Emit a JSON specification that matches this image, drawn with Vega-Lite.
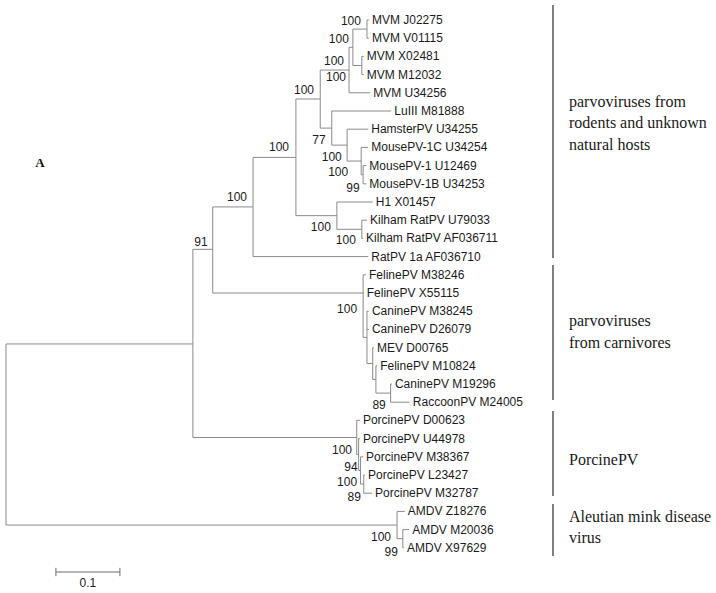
{
  "$schema": "https://vega.github.io/schema/vega-lite/v6.json",
  "width": 716,
  "height": 593,
  "autosize": {"type": "none"},
  "padding": 0,
  "background": "white",
  "config": {"view": {"stroke": null}},
  "datasets": {
    "segs": [
      {"x": 0, "y": 17.8, "x2": 0, "y2": 27.75},
      {"x": 0.292, "y": 12.6, "x2": 0.292, "y2": 22.94},
      {"x": 0.323, "y": 10.27, "x2": 0.323, "y2": 15},
      {"x": 0.386, "y": 7.55, "x2": 0.386, "y2": 13},
      {"x": 0.453, "y": 4.34, "x2": 0.453, "y2": 10.75},
      {"x": 0.491, "y": 2.75, "x2": 0.491, "y2": 5.94},
      {"x": 0.536, "y": 1.5, "x2": 0.536, "y2": 4},
      {"x": 0.542, "y": 0.5, "x2": 0.542, "y2": 2.5},
      {"x": 0.564, "y": 0, "x2": 0.564, "y2": 1},
      {"x": 0.556, "y": 2, "x2": 0.556, "y2": 3},
      {"x": 0.509, "y": 5, "x2": 0.509, "y2": 6.875},
      {"x": 0.533, "y": 6, "x2": 0.533, "y2": 7.75},
      {"x": 0.555, "y": 7, "x2": 0.555, "y2": 8.5},
      {"x": 0.558, "y": 8, "x2": 0.558, "y2": 9},
      {"x": 0.517, "y": 10, "x2": 0.517, "y2": 11.5},
      {"x": 0.556, "y": 11, "x2": 0.556, "y2": 12},
      {"x": 0.558, "y": 14, "x2": 0.558, "y2": 17.44},
      {"x": 0.564, "y": 16, "x2": 0.564, "y2": 18.875},
      {"x": 0.573, "y": 18, "x2": 0.573, "y2": 19.75},
      {"x": 0.578, "y": 19, "x2": 0.578, "y2": 20.5},
      {"x": 0.601, "y": 20, "x2": 0.601, "y2": 21},
      {"x": 0.548, "y": 22, "x2": 0.548, "y2": 23.875},
      {"x": 0.551, "y": 23, "x2": 0.551, "y2": 24.75},
      {"x": 0.554, "y": 24, "x2": 0.554, "y2": 25.5},
      {"x": 0.559, "y": 25, "x2": 0.559, "y2": 26},
      {"x": 0.611, "y": 27, "x2": 0.611, "y2": 28.5},
      {"x": 0.620, "y": 28, "x2": 0.620, "y2": 29},
      {"x": 0, "y": 17.8, "x2": 0.292, "y2": 17.8},
      {"x": 0, "y": 27.75, "x2": 0.611, "y2": 27.75},
      {"x": 0.292, "y": 12.6, "x2": 0.323, "y2": 12.6},
      {"x": 0.292, "y": 22.94, "x2": 0.548, "y2": 22.94},
      {"x": 0.323, "y": 10.27, "x2": 0.386, "y2": 10.27},
      {"x": 0.323, "y": 15, "x2": 0.558, "y2": 15},
      {"x": 0.386, "y": 7.55, "x2": 0.453, "y2": 7.55},
      {"x": 0.386, "y": 13, "x2": 0.566, "y2": 13},
      {"x": 0.453, "y": 4.34, "x2": 0.491, "y2": 4.34},
      {"x": 0.453, "y": 10.75, "x2": 0.517, "y2": 10.75},
      {"x": 0.491, "y": 2.75, "x2": 0.536, "y2": 2.75},
      {"x": 0.491, "y": 5.94, "x2": 0.509, "y2": 5.94},
      {"x": 0.536, "y": 1.5, "x2": 0.542, "y2": 1.5},
      {"x": 0.536, "y": 4, "x2": 0.569, "y2": 4},
      {"x": 0.542, "y": 0.5, "x2": 0.564, "y2": 0.5},
      {"x": 0.542, "y": 2.5, "x2": 0.556, "y2": 2.5},
      {"x": 0.564, "y": 0, "x2": 0.567, "y2": 0},
      {"x": 0.564, "y": 1, "x2": 0.567, "y2": 1},
      {"x": 0.556, "y": 2, "x2": 0.559, "y2": 2},
      {"x": 0.556, "y": 3, "x2": 0.559, "y2": 3},
      {"x": 0.509, "y": 5, "x2": 0.602, "y2": 5},
      {"x": 0.509, "y": 6.875, "x2": 0.533, "y2": 6.875},
      {"x": 0.533, "y": 6, "x2": 0.566, "y2": 6},
      {"x": 0.533, "y": 7.75, "x2": 0.555, "y2": 7.75},
      {"x": 0.555, "y": 7, "x2": 0.566, "y2": 7},
      {"x": 0.555, "y": 8.5, "x2": 0.558, "y2": 8.5},
      {"x": 0.558, "y": 8, "x2": 0.563, "y2": 8},
      {"x": 0.558, "y": 9, "x2": 0.563, "y2": 9},
      {"x": 0.517, "y": 10, "x2": 0.573, "y2": 10},
      {"x": 0.517, "y": 11.5, "x2": 0.556, "y2": 11.5},
      {"x": 0.556, "y": 11, "x2": 0.564, "y2": 11},
      {"x": 0.556, "y": 12, "x2": 0.558, "y2": 12},
      {"x": 0.558, "y": 14, "x2": 0.5625, "y2": 14},
      {"x": 0.558, "y": 15, "x2": 0.559, "y2": 15},
      {"x": 0.558, "y": 17.44, "x2": 0.564, "y2": 17.44},
      {"x": 0.564, "y": 16, "x2": 0.567, "y2": 16},
      {"x": 0.564, "y": 17, "x2": 0.567, "y2": 17},
      {"x": 0.564, "y": 18.875, "x2": 0.573, "y2": 18.875},
      {"x": 0.573, "y": 18, "x2": 0.575, "y2": 18},
      {"x": 0.573, "y": 19.75, "x2": 0.578, "y2": 19.75},
      {"x": 0.578, "y": 19, "x2": 0.580, "y2": 19},
      {"x": 0.578, "y": 20.5, "x2": 0.601, "y2": 20.5},
      {"x": 0.601, "y": 20, "x2": 0.603, "y2": 20},
      {"x": 0.601, "y": 21, "x2": 0.631, "y2": 21},
      {"x": 0.548, "y": 22, "x2": 0.553, "y2": 22},
      {"x": 0.548, "y": 23.875, "x2": 0.551, "y2": 23.875},
      {"x": 0.551, "y": 23, "x2": 0.553, "y2": 23},
      {"x": 0.551, "y": 24.75, "x2": 0.554, "y2": 24.75},
      {"x": 0.554, "y": 24, "x2": 0.558, "y2": 24},
      {"x": 0.554, "y": 25.5, "x2": 0.559, "y2": 25.5},
      {"x": 0.559, "y": 25, "x2": 0.561, "y2": 25},
      {"x": 0.559, "y": 26, "x2": 0.572, "y2": 26},
      {"x": 0.611, "y": 27, "x2": 0.623, "y2": 27},
      {"x": 0.611, "y": 28.5, "x2": 0.620, "y2": 28.5},
      {"x": 0.620, "y": 28, "x2": 0.630, "y2": 28},
      {"x": 0.620, "y": 29, "x2": 0.622, "y2": 29}
    ],
    "leaves": [
      {"label": "MVM J02275", "x": 0.567, "y": 0},
      {"label": "MVM V01115", "x": 0.567, "y": 1},
      {"label": "MVM X02481", "x": 0.559, "y": 2},
      {"label": "MVM M12032", "x": 0.559, "y": 3},
      {"label": "MVM U34256", "x": 0.569, "y": 4},
      {"label": "LuIII M81888", "x": 0.602, "y": 5},
      {"label": "HamsterPV U34255", "x": 0.566, "y": 6},
      {"label": "MousePV-1C U34254", "x": 0.566, "y": 7},
      {"label": "MousePV-1 U12469", "x": 0.563, "y": 8},
      {"label": "MousePV-1B U34253", "x": 0.563, "y": 9},
      {"label": "H1 X01457", "x": 0.573, "y": 10},
      {"label": "Kilham RatPV U79033", "x": 0.564, "y": 11},
      {"label": "Kilham RatPV AF036711", "x": 0.558, "y": 12},
      {"label": "RatPV 1a AF036710", "x": 0.566, "y": 13},
      {"label": "FelinePV M38246", "x": 0.5625, "y": 14},
      {"label": "FelinePV X55115", "x": 0.559, "y": 15},
      {"label": "CaninePV M38245", "x": 0.567, "y": 16},
      {"label": "CaninePV D26079", "x": 0.567, "y": 17},
      {"label": "MEV D00765", "x": 0.575, "y": 18},
      {"label": "FelinePV M10824", "x": 0.580, "y": 19},
      {"label": "CaninePV M19296", "x": 0.603, "y": 20},
      {"label": "RaccoonPV M24005", "x": 0.631, "y": 21},
      {"label": "PorcinePV D00623", "x": 0.553, "y": 22},
      {"label": "PorcinePV U44978", "x": 0.553, "y": 23},
      {"label": "PorcinePV M38367", "x": 0.558, "y": 24},
      {"label": "PorcinePV L23427", "x": 0.561, "y": 25},
      {"label": "PorcinePV M32787", "x": 0.572, "y": 26},
      {"label": "AMDV Z18276", "x": 0.623, "y": 27},
      {"label": "AMDV M20036", "x": 0.630, "y": 28},
      {"label": "AMDV X97629", "x": 0.622, "y": 29}
    ],
    "boots": [
      {"label": "100", "x": 0.539, "y": 0.055},
      {"label": "100", "x": 0.520, "y": 1.044},
      {"label": "100", "x": 0.5125, "y": 2.253},
      {"label": "100", "x": 0.5156, "y": 3.132},
      {"label": "100", "x": 0.4656, "y": 3.846},
      {"label": "77", "x": 0.489, "y": 6.593},
      {"label": "100", "x": 0.509, "y": 7.527},
      {"label": "100", "x": 0.519, "y": 8.352},
      {"label": "99", "x": 0.542, "y": 9.231},
      {"label": "100", "x": 0.4266, "y": 6.978},
      {"label": "100", "x": 0.361, "y": 9.725},
      {"label": "91", "x": 0.3047, "y": 12.198},
      {"label": "100", "x": 0.492, "y": 11.374},
      {"label": "100", "x": 0.531, "y": 12.088},
      {"label": "100", "x": 0.533, "y": 15.879},
      {"label": "89", "x": 0.583, "y": 21.154},
      {"label": "100", "x": 0.525, "y": 23.626},
      {"label": "94", "x": 0.539, "y": 24.56},
      {"label": "100", "x": 0.533, "y": 25.385},
      {"label": "89", "x": 0.544, "y": 26.209},
      {"label": "100", "x": 0.586, "y": 28.407},
      {"label": "99", "x": 0.602, "y": 29.231}
    ],
    "brackets": [
      {"x": 0.8547, "y": -0.824, "x2": 0.8547, "y2": 13.077},
      {"x": 0.8547, "y": 13.46, "x2": 0.8547, "y2": 20.88},
      {"x": 0.8547, "y": 21.48, "x2": 0.8547, "y2": 26.15},
      {"x": 0.8547, "y": 26.59, "x2": 0.8547, "y2": 29.45}
    ],
    "groups": [
      {"label": "parvoviruses from", "x": 0.8797, "y": 4.505},
      {"label": "rodents and unknown", "x": 0.8797, "y": 5.659},
      {"label": "natural hosts", "x": 0.8797, "y": 6.868},
      {"label": "parvoviruses", "x": 0.8797, "y": 16.54},
      {"label": "from carnivores", "x": 0.8797, "y": 17.75},
      {"label": "PorcinePV", "x": 0.8797, "y": 24.18},
      {"label": "Aleutian mink disease", "x": 0.8797, "y": 27.31},
      {"label": "virus", "x": 0.8797, "y": 28.46}
    ],
    "scalebar": [
      {"x": 0.078, "y": 30.33, "x2": 0.178, "y2": 30.33},
      {"x": 0.078, "y": 30.1, "x2": 0.078, "y2": 30.56},
      {"x": 0.178, "y": 30.1, "x2": 0.178, "y2": 30.56}
    ],
    "scalelabel": [{"label": "0.1", "x": 0.128, "y": 30.93}],
    "panel": [{"label": "A", "x": 0.053, "y": 7.857}]
  },
  "encoding": {
    "x": {"field": "x", "type": "quantitative", "axis": null, "scale": {"domain": [-0.009375, 1.109375], "nice": false, "zero": false}},
    "y": {"field": "y", "type": "quantitative", "axis": null, "scale": {"domain": [-1.0989, 31.4835], "nice": false, "zero": false, "reverse": true}}
  },
  "layer": [
    {
      "data": {"name": "segs"},
      "mark": {"type": "rule", "color": "#8a8a8a", "strokeWidth": 1},
      "encoding": {"x2": {"field": "x2"}, "y2": {"field": "y2"}}
    },
    {
      "data": {"name": "brackets"},
      "mark": {"type": "rule", "color": "#3a3a3a", "strokeWidth": 1.3},
      "encoding": {"x2": {"field": "x2"}, "y2": {"field": "y2"}}
    },
    {
      "data": {"name": "scalebar"},
      "mark": {"type": "rule", "color": "#6a6a6a", "strokeWidth": 1},
      "encoding": {"x2": {"field": "x2"}, "y2": {"field": "y2"}}
    },
    {
      "data": {"name": "leaves"},
      "mark": {"type": "text", "align": "left", "baseline": "middle", "dx": 3, "font": "Liberation Sans", "fontSize": 12, "color": "#1a1a1a"},
      "encoding": {"text": {"field": "label"}}
    },
    {
      "data": {"name": "boots"},
      "mark": {"type": "text", "align": "center", "baseline": "middle", "font": "Liberation Sans", "fontSize": 12, "color": "#1a1a1a"},
      "encoding": {"text": {"field": "label"}}
    },
    {
      "data": {"name": "groups"},
      "mark": {"type": "text", "align": "left", "baseline": "middle", "font": "Liberation Serif", "fontSize": 16, "color": "#1a1a1a"},
      "encoding": {"text": {"field": "label"}}
    },
    {
      "data": {"name": "scalelabel"},
      "mark": {"type": "text", "align": "center", "baseline": "middle", "font": "Liberation Sans", "fontSize": 12, "color": "#1a1a1a"},
      "encoding": {"text": {"field": "label"}}
    },
    {
      "data": {"name": "panel"},
      "mark": {"type": "text", "align": "center", "baseline": "middle", "font": "Liberation Serif", "fontSize": 13, "fontWeight": "bold", "color": "#111111"},
      "encoding": {"text": {"field": "label"}}
    }
  ]
}
